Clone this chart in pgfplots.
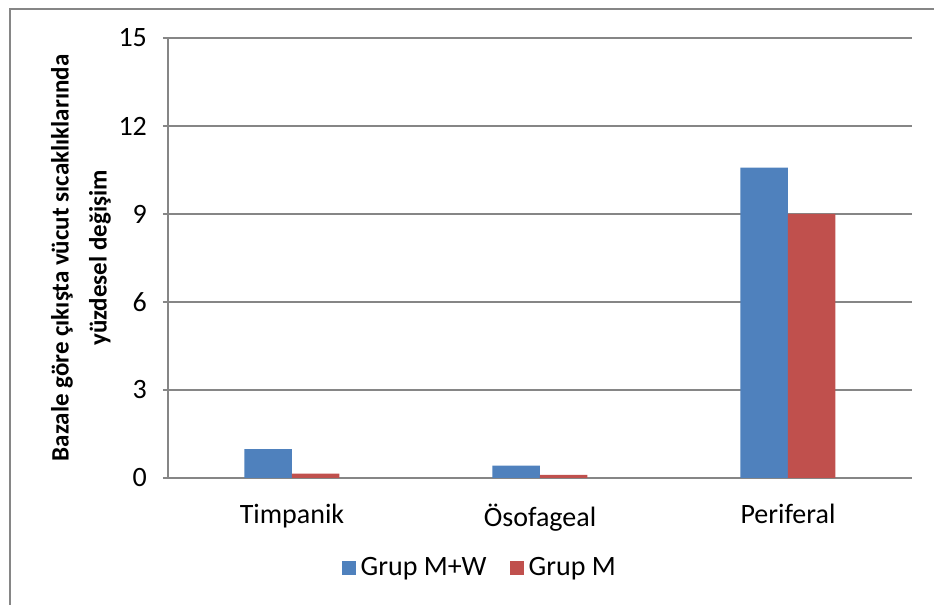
\documentclass[border=0pt]{standalone}
\usepackage{fontspec}
\setmainfont{Carlito}
\usepackage{pgfplots}
\pgfplotsset{compat=1.18}
\definecolor{barblue}{RGB}{79,129,189}
\definecolor{barred}{RGB}{192,80,77}
\definecolor{gridgray}{RGB}{134,134,134}
\begin{document}
\begin{tikzpicture}
% canvas: 467pt x 302.5pt
\path[use as bounding box] (0pt,0pt) rectangle (467pt,302.5pt);
\draw[gridgray, line width=1pt] (5pt,0pt) -- (5pt,298pt) -- (467pt,298pt);
\begin{axis}[
  at={(84pt,63.5pt)}, anchor=south west,
  scale only axis, width=372pt, height=220pt,
  ymin=0, ymax=15, ytick={0,3,...,15},
  xmin=-0.5, xmax=2.5, xtick={0,1,2},
  xticklabels={Timpanik,Ösofageal,Periferal},
  ybar=0pt, bar width=23.75pt,
  ymajorgrids, grid style={gridgray, line width=1pt},
  axis x line*=bottom, axis y line*=left,
  axis line style={gridgray, line width=1pt},
  xtick style={draw=none},
  ytick style={gridgray, line width=1pt},
  tick align=outside, major tick length=2.5pt,
  tick label style={font=\fontsize{14}{16}\selectfont, black},
  yticklabel style={xshift=-4.5pt},
  xticklabel style={yshift=-7pt},
  /pgf/number format/assume math mode=true,
  ylabel={Bazale göre çıkışta vücut sıcaklıklarında\\yüzdesel değişim},
  every axis y label/.style={at={(axis description cs:-0.117,0.5)}, rotate=90, anchor=center,
    align=center, font=\bfseries\fontsize{12.5}{19}\selectfont},
  legend columns=2,
  legend style={draw=none, at={(0.421,-0.205)}, anchor=center,
    font=\fontsize{14}{16}\selectfont,
    nodes={inner xsep=2.5pt},
    /tikz/every even column/.append style={column sep=9pt}},
]
\addplot[fill=barblue, draw=none,
  legend image code/.code={\fill[barblue] (0pt,-3.5pt) rectangle (7pt,3.5pt);}]
  coordinates {(0,0.98) (1,0.42) (2,10.58)};
\addlegendentry{Grup M+W}
\addplot[fill=barred, draw=none,
  legend image code/.code={\fill[barred] (0pt,-3.5pt) rectangle (7pt,3.5pt);}]
  coordinates {(0,0.15) (1,0.11) (2,9.0)};
\addlegendentry{Grup M}
\end{axis}
\end{tikzpicture}
\end{document}
